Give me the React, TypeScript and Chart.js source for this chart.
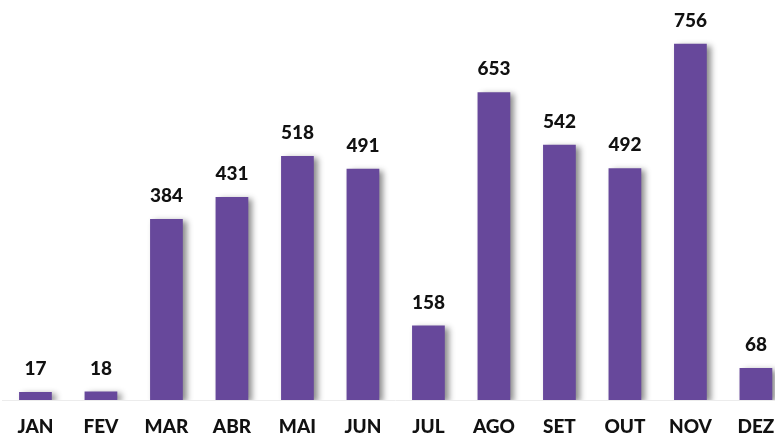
import React, { useEffect, useRef } from "react";
import { Chart, registerables } from "chart.js";

Chart.register(...registerables);

const months = ["JAN", "FEV", "MAR", "ABR", "MAI", "JUN", "JUL", "AGO", "SET", "OUT", "NOV", "DEZ"];
const values = [17, 18, 384, 431, 518, 491, 158, 653, 542, 492, 756, 68];

const BAR_COLOR = "#67489B";
const FONT = "Lato, 'Open Sans', sans-serif";

const shadowPlugin = {
  id: "barShadow",
  beforeDatasetsDraw(chart: any) {
    const ctx = chart.ctx;
    ctx.save();
    ctx.shadowColor = "rgba(0,0,0,0.45)";
    ctx.shadowBlur = 6;
    ctx.shadowOffsetX = 4;
    ctx.shadowOffsetY = 2;
  },
  afterDatasetsDraw(chart: any) {
    const ctx = chart.ctx;
    ctx.restore();
    const meta = chart.getDatasetMeta(0);
    ctx.save();
    ctx.fillStyle = "#111";
    ctx.font = `900 19px ${FONT}`;
    ctx.textAlign = "center";
    ctx.textBaseline = "middle";
    meta.data.forEach((bar: any, i: number) => {
      ctx.fillText(String(chart.data.datasets[0].data[i]), bar.x, bar.y - 23);
    });
    ctx.restore();
  },
};

export default function App() {
  const ref = useRef<HTMLCanvasElement | null>(null);
  useEffect(() => {
    if (!ref.current) return;
    const chart = new Chart(ref.current, {
      type: "bar",
      data: {
        labels: months,
        datasets: [
          {
            data: values,
            backgroundColor: BAR_COLOR,
            borderWidth: 0,
            barPercentage: 0.5,
            categoryPercentage: 1,
          },
        ],
      },
      options: {
        animation: false,
        responsive: false,
        maintainAspectRatio: false,
        layout: { padding: { left: 2.7, right: 1, top: 0, bottom: -16 } },
        plugins: { legend: { display: false }, tooltip: { enabled: false } },
        scales: {
          x: {
            grid: { display: false, drawTicks: false },
            border: { display: true, color: "#ececec", width: 1 },
            ticks: { color: "#111", font: { family: FONT, size: 19, weight: 900 }, padding: 15.6 },
          },
          y: {
            display: false,
            min: 0,
            max: 849,
          },
        },
      },
      plugins: [shadowPlugin],
    });
    return () => chart.destroy();
  }, []);
  return (
    <div style={{ position: "fixed", left: 0, top: 0, width: 775, height: 438, overflow: "hidden", background: "#fff" }}>
      <canvas ref={ref} width={790} height={438} style={{ width: 790, height: 438, display: "block" }} />
    </div>
  );
}
